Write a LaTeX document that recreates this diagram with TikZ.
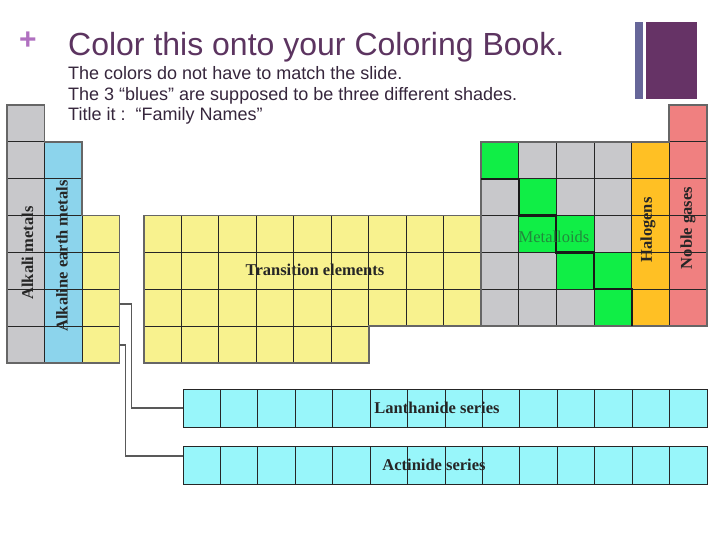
\documentclass[tikz,border=0pt]{standalone}
\usepackage{fontspec}
\setmainfont{Liberation Serif}
\newfontfamily\slidefont{Liberation Sans}
\usepackage{tikz}

\definecolor{slidepurple}{RGB}{92,52,96}
\definecolor{subtext}{RGB}{54,38,60}
\definecolor{plusviolet}{RGB}{176,112,192}
\definecolor{barblue}{RGB}{102,102,153}
\definecolor{barpurple}{RGB}{102,51,102}
\definecolor{metalgray}{RGB}{200,200,203}
\definecolor{earthblue}{RGB}{140,212,236}
\definecolor{transyellow}{RGB}{248,242,142}
\definecolor{loidgreen}{RGB}{16,238,70}
\definecolor{halorange}{RGB}{255,192,36}
\definecolor{noblered}{RGB}{240,128,128}
\definecolor{seriescyan}{RGB}{152,246,250}
\definecolor{loidtext}{RGB}{34,136,60}

\def\rh{36.857}

\begin{document}
\begin{tikzpicture}[x=1pt,y=-1pt,
    cell/.style={draw=black!85, line width=0.9pt},
    rim/.style={draw=black!60, line width=1.8pt},
    famlabel/.style={font=\bfseries\fontsize{16.5}{18}\selectfont, text=black!85, inner sep=0pt},
    notetext/.style={anchor=base west, text=subtext, inner sep=0pt, font=\slidefont\fontsize{18}{20}\selectfont},
    link/.style={draw=black!65, line width=1.6pt}]

        \useasboundingbox (0,0) rectangle (720,540);

        % Slide header
        \node[text=plusviolet, font=\slidefont\bfseries\fontsize{30}{32}\selectfont] (plus) at (28,41) {+};
        \node[anchor=base west, text=slidepurple, inner sep=0pt, font=\slidefont\fontsize{32}{36}\selectfont] (title) at (68,56) {Color this onto your Coloring Book.};
        \node[notetext] (note1) at (68,80) {The colors do not have to match the slide.};
        \node[notetext] (note2) at (68,101) {The 3 “blues” are supposed to be three different shades.};
        \node[notetext] (note3) at (68,121) {Title it :\ \ “Family Names”};
        \fill[barblue] (635,22) rectangle (643,99);
        \fill[barpurple] (646,22) rectangle (697,99);

        % Alkali metals and alkaline earth metals
        \foreach \r in {0,...,6}
            \filldraw[cell, fill=metalgray] (7,{105+\r*\rh}) rectangle ++(37.5,\rh);
        \foreach \r in {1,...,6}
            \filldraw[cell, fill=earthblue] (44.5,{105+\r*\rh}) rectangle ++(37.5,\rh);

        % Transition elements
        \foreach \r in {3,...,6}
            \filldraw[cell, fill=transyellow] (82,{105+\r*\rh}) rectangle ++(37.5,\rh);
        \foreach \c in {0,...,8}
            \foreach \r in {3,4,5}
                \filldraw[cell, fill=transyellow] ({144+\c*37.45},{105+\r*\rh}) rectangle ++(37.45,\rh);
        \foreach \c in {0,...,5}
            \filldraw[cell, fill=transyellow] ({144+\c*37.45},{105+6*\rh}) rectangle ++(37.45,\rh);

        % p block, metalloids, halogens, noble gases
        \foreach \c in {0,...,3}
            \foreach \r in {1,...,5}
                \filldraw[cell, fill=metalgray] ({481+\c*37.67},{105+\r*\rh}) rectangle ++(37.67,\rh);
        \foreach \c/\r in {0/1,1/2,1/3,2/3,2/4,3/4,3/5}
            \filldraw[cell, fill=loidgreen] ({481+\c*37.67},{105+\r*\rh}) rectangle ++(37.67,\rh);
        \foreach \r in {1,...,5}
            \filldraw[cell, fill=halorange] ({481+4*37.67},{105+\r*\rh}) rectangle ++(37.67,\rh);
        \foreach \r in {0,...,5}
            \filldraw[cell, fill=noblered] ({481+5*37.67},{105+\r*\rh}) rectangle ++(37.67,\rh);

        % Block outlines and the metalloid staircase
        \draw[rim] (7,105) -- (44.5,105) -- (44.5,141.86) -- (82,141.86) -- (82,215.57)
            -- (119.5,215.57) -- (119.5,363) -- (7,363) -- cycle;
        \draw[rim] (144,215.57) -- (481,215.57) -- (481,326.14) -- (368.7,326.14)
            -- (368.7,363) -- (144,363) -- cycle;
        \draw[rim] (481,141.86) -- (669,141.86) -- (669,105) -- (707,105) -- (707,326.14)
            -- (481,326.14) -- cycle;
        \draw[line width=2.2pt, black!90] (481,178.71) -- (518.67,178.71) -- (518.67,215.57)
            -- (556.33,215.57) -- (556.33,252.43) -- (594,252.43) -- (594,289.29)
            -- (631.67,289.29) -- (631.67,326.14);

        % Inner transition series
        \node[fill=seriescyan, minimum width=524pt, minimum height=38pt, inner sep=0pt, anchor=north west] (lanth) at (183,389) {};
        \node[fill=seriescyan, minimum width=524pt, minimum height=38pt, inner sep=0pt, anchor=north west] (actin) at (183,446) {};
        \foreach \c in {0,...,13} {
            \draw[cell] ({183+\c*37.43},389) rectangle ++(37.43,38);
            \draw[cell] ({183+\c*37.43},446) rectangle ++(37.43,38);
        }

        % Links from group 3 to the series
        \coordinate (lasrc) at (119.5,304);
        \coordinate (acsrc) at (119.5,345);
        \draw[link] (lasrc) -- ++(12,0) |- (lanth.west);
        \draw[link] (acsrc) -- ++(6,0) |- ([yshift=9pt]actin.west);

        % Family names
        \node[famlabel, rotate=90] (alkali) at (27.5,253) {Alkali metals};
        \node[famlabel, rotate=90] (earth) at (62,256) {Alkaline earth metals};
        \node[famlabel] (trans) at (315,270) {Transition elements};
        \node[famlabel, font=\fontsize{16.5}{18}\selectfont, text=loidtext] (loids) at (554,237) {Metalloids};
        \node[famlabel, rotate=90] (halo) at (648,230) {Halogens};
        \node[famlabel, rotate=90] (noble) at (688,228) {Noble gases};
        \node[famlabel] (lanlabel) at (437,408) {Lanthanide series};
        \node[famlabel] (aclabel) at (434,465) {Actinide series};

\end{tikzpicture}
\end{document}
